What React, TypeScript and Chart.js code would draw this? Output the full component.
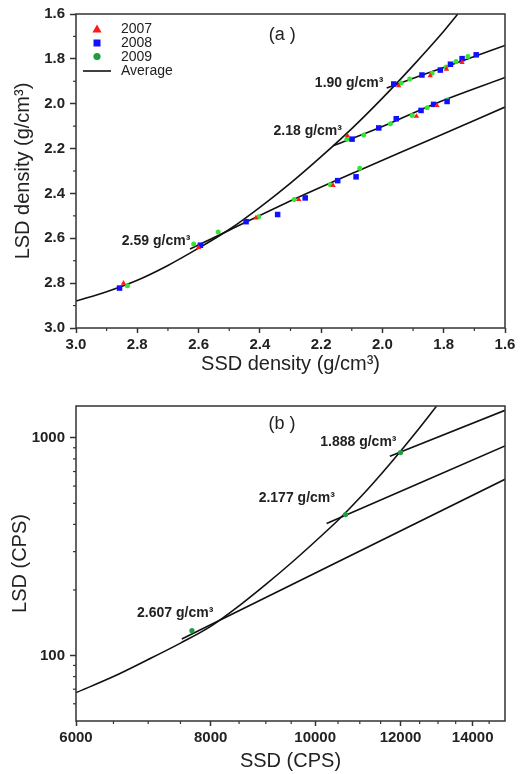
import React, { useEffect, useRef } from 'react';
import { Chart, registerables } from 'chart.js';

Chart.register(...registerables);

const FONT = "'Liberation Sans', Arial, Helvetica, sans-serif";
const INK = '#222';
const FRAME = '#333';

// ---------------- Panel (a) ----------------
const ticksA = [1.6, 1.8, 2.0, 2.2, 2.4, 2.6, 2.8, 3.0];
const minorTicksA = [1.7, 1.9, 2.1, 2.3, 2.5, 2.7, 2.9];

const ssd2007 = [2.845, 2.600, 2.413, 2.273, 2.161, 2.114, 1.947, 1.889, 1.844, 1.822, 1.791, 1.740];
const lsd2007 = [2.800, 2.641, 2.509, 2.427, 2.364, 2.143, 1.920, 2.056, 1.875, 2.008, 1.846, 1.816];

const ssd2008 = [2.858, 2.594, 2.445, 2.342, 2.252, 2.146, 2.086, 2.099, 2.012, 1.955, 1.963, 1.871, 1.874, 1.833, 1.811, 1.789, 1.778, 1.740, 1.694];
const lsd2008 = [2.822, 2.631, 2.526, 2.494, 2.420, 2.343, 2.326, 2.158, 2.108, 2.067, 1.912, 1.872, 2.030, 2.003, 1.850, 1.990, 1.824, 1.799, 1.782];

const ssd2009 = [2.832, 2.616, 2.536, 2.404, 2.288, 2.170, 2.074, 2.116, 2.061, 1.974, 1.903, 1.854, 1.789, 1.939, 1.911, 1.838, 1.792, 1.760, 1.721];
const lsd2009 = [2.812, 2.626, 2.572, 2.504, 2.427, 2.361, 2.288, 2.158, 2.140, 2.089, 2.052, 2.018, 1.983, 1.908, 1.890, 1.864, 1.836, 1.812, 1.790];

const avgSsdA = [3.0, 2.9, 2.8, 2.7, 2.6, 2.5, 2.4, 2.3, 2.2, 2.1, 2.0, 1.9, 1.8, 1.754];
const avgLsdA = [2.880, 2.838, 2.787, 2.721, 2.644, 2.561, 2.462, 2.354, 2.236, 2.111, 1.975, 1.830, 1.677, 1.600];

const fit259Ssd = [2.628, 2.5, 2.29, 2.084, 1.845, 1.6];
const fit259Lsd = [2.648, 2.564, 2.427, 2.302, 2.161, 2.015];
const fit218Ssd = [2.160, 2.008, 1.834, 1.6];
const fit218Lsd = [2.187, 2.106, 2.003, 1.883];
const fit190Ssd = [1.986, 1.877, 1.725, 1.6];
const fit190Lsd = [1.930, 1.875, 1.802, 1.740];

const labelsA = [
  { text: '1.90 g/cm³', x: 1.997, y: 1.909, align: 'right', size: 14, bold: true },
  { text: '2.18 g/cm³', x: 2.132, y: 2.121, align: 'right', size: 14, bold: true },
  { text: '2.59 g/cm³', x: 2.627, y: 2.611, align: 'right', size: 14, bold: true },
  { text: '(a )', x: 2.327, y: 1.693, align: 'center', size: 18, bold: false },
];

const legendNames = ['2007', '2008', '2009', 'Average'];

// ---------------- Panel (b) ----------------
const ticksBx = [6000, 8000, 10000, 12000, 14000];
const minorTicksBx = [6500, 7000, 7500, 8500, 9000, 9500, 10500, 11000, 11500, 12500, 13000, 13500, 14500];
const ticksBy = [100, 1000];
const minorTicksBy = [60, 70, 80, 90, 200, 300, 400, 500, 600, 700, 800, 900];

const avgSsdB = [6000, 6500, 7000, 7500, 8000, 8500, 9000, 9500, 10000, 10500, 11000, 11500, 12000, 12500, 12956];
const avgLsdB = [67.5, 80.0, 95.8, 114, 136, 169, 212, 266, 334, 418, 530, 677, 868, 1112, 1395];

const fit2607SsdB = [7521, 15000];
const fit2607LsdB = [119, 645];
const fit2177SsdB = [10247, 15000];
const fit2177LsdB = [404, 917];
const fit1888SsdB = [11730, 15000];
const fit1888LsdB = [823, 1337];

const calibSsdB = [7686, 10671, 12000];
const calibLsdB = [130, 444, 855];

const labelsB = [
  { text: '1.888 g/cm³', x: 11897, y: 957, align: 'right', size: 14, bold: true },
  { text: '2.177 g/cm³', x: 10431, y: 526, align: 'right', size: 14, bold: true },
  { text: '2.607 g/cm³', x: 8045, y: 156, align: 'right', size: 14, bold: true },
  { text: '(b )', x: 9316, y: 1153, align: 'center', size: 18, bold: false },
];

// ---------------- helpers ----------------
const zip = (xs: number[], ys: number[]) => xs.map((x, i) => ({ x, y: ys[i] }));

const RED = '#ff1a1a';
const BLUE = '#1010ff';
const GREEN_PT = '#33e633';
const GREEN_DARK = '#1e9e3e';

const lineDs = (xs: number[], ys: number[]) => ({
  type: 'line' as const,
  data: zip(xs, ys),
  borderColor: '#111',
  borderWidth: 1.6,
  pointRadius: 0,
  fill: false,
  cubicInterpolationMode: 'monotone' as const,
  order: 2,
});

const pointDs = (xs: number[], ys: number[], color: string, style: string, r: number) => ({
  type: 'scatter' as const,
  data: zip(xs, ys),
  backgroundColor: color,
  borderColor: color,
  borderWidth: 0,
  pointBorderWidth: 0,
  pointStyle: style,
  pointRadius: r,
  showLine: false,
  order: 1,
});

const framePlugin = {
  id: 'frame',
  afterDraw(chart: any) {
    const { ctx, chartArea: a } = chart;
    ctx.save();
    ctx.strokeStyle = FRAME;
    ctx.lineWidth = 1.5;
    ctx.strokeRect(a.left, a.top, a.right - a.left, a.bottom - a.top);
    ctx.restore();
  },
};

const minorTickPlugin = {
  id: 'minorTicks',
  afterDraw(chart: any, _args: any, opts: any) {
    const { ctx, chartArea: a, scales } = chart;
    const len = opts.len || 3;
    ctx.save();
    ctx.strokeStyle = FRAME;
    ctx.lineWidth = 1.2;
    (opts.x || []).forEach((v: number) => {
      const px = scales.x.getPixelForValue(v);
      ctx.beginPath();
      ctx.moveTo(px, a.bottom);
      ctx.lineTo(px, a.bottom + len);
      ctx.stroke();
    });
    (opts.y || []).forEach((v: number) => {
      const py = scales.y.getPixelForValue(v);
      ctx.beginPath();
      ctx.moveTo(a.left, py);
      ctx.lineTo(a.left - len, py);
      ctx.stroke();
    });
    ctx.restore();
  },
};

const textPlugin = {
  id: 'textLabels',
  afterDatasetsDraw(chart: any, _args: any, opts: any) {
    const { ctx, scales } = chart;
    ctx.save();
    ctx.fillStyle = INK;
    ctx.textBaseline = 'middle';
    (opts.items || []).forEach((it: any) => {
      ctx.font = `${it.bold ? 'bold ' : ''}${it.size}px ${FONT}`;
      ctx.textAlign = it.align;
      ctx.fillText(it.text, scales.x.getPixelForValue(it.x), scales.y.getPixelForValue(it.y));
    });
    ctx.restore();
  },
};

const legendPlugin = {
  id: 'insideLegend',
  afterDraw(chart: any, _args: any, opts: any) {
    if (!opts.show) return;
    const { ctx, chartArea: a } = chart;
    const mx = a.left + 21;
    const tx = a.left + 45;
    const rows = [15, 29, 42.5, 57];
    ctx.save();
    ctx.fillStyle = RED;
    ctx.beginPath();
    ctx.moveTo(mx, a.top + rows[0] - 4.5);
    ctx.lineTo(mx + 4.6, a.top + rows[0] + 3.5);
    ctx.lineTo(mx - 4.6, a.top + rows[0] + 3.5);
    ctx.closePath();
    ctx.fill();
    ctx.fillStyle = BLUE;
    ctx.fillRect(mx - 3.5, a.top + rows[1] - 3.5, 7, 7);
    ctx.fillStyle = GREEN_DARK;
    ctx.beginPath();
    ctx.arc(mx, a.top + rows[2], 3.6, 0, Math.PI * 2);
    ctx.fill();
    ctx.strokeStyle = '#111';
    ctx.lineWidth = 1.6;
    ctx.beginPath();
    ctx.moveTo(a.left + 7, a.top + rows[3]);
    ctx.lineTo(a.left + 35, a.top + rows[3]);
    ctx.stroke();
    ctx.fillStyle = INK;
    ctx.font = `14px ${FONT}`;
    ctx.textAlign = 'left';
    ctx.textBaseline = 'middle';
    legendNames.forEach((n, i) => ctx.fillText(n, tx, a.top + rows[i] + 0.5));
    ctx.restore();
  },
};

const tickFont = { family: FONT, size: 15, weight: 'bold' as const };
const titleFont = { family: FONT, size: 20, weight: 'normal' as const };

function configA(): any {
  return {
    data: {
      datasets: [
        pointDs(ssd2007, lsd2007, RED, 'triangle', 3.1),
        pointDs(ssd2008, lsd2008, BLUE, 'rect', 3.9),
        pointDs(ssd2009, lsd2009, GREEN_PT, 'circle', 2.5),
        lineDs(avgSsdA, avgLsdA),
        lineDs(fit259Ssd, fit259Lsd),
        lineDs(fit218Ssd, fit218Lsd),
        lineDs(fit190Ssd, fit190Lsd),
      ],
    },
    options: {
      responsive: false,
      animation: false,
      events: [],
      layout: { padding: { left: 0, top: 11, right: 20, bottom: 0 } },
      plugins: {
        legend: { display: false },
        tooltip: { enabled: false },
        minorTicks: { x: minorTicksA, y: minorTicksA, len: 3 },
        textLabels: { items: labelsA },
        insideLegend: { show: true },
      },
      scales: {
        x: {
          type: 'linear',
          min: 1.6,
          max: 3.0,
          reverse: true,
          afterFit: (s: any) => { s.height = 52; },
          afterBuildTicks: (s: any) => { s.ticks = ticksA.map((v) => ({ value: v })); },
          ticks: { callback: (v: any) => Number(v).toFixed(1), font: tickFont, color: INK, padding: 3, maxRotation: 0, autoSkip: false },
          grid: { drawOnChartArea: false, drawTicks: true, tickLength: 5, tickColor: FRAME, tickWidth: 1.5 },
          border: { display: false },
          title: { display: true, text: 'SSD density (g/cm³)', font: titleFont, color: INK, padding: { top: 0, bottom: 4 } },
        },
        y: {
          type: 'linear',
          min: 1.6,
          max: 3.0,
          reverse: true,
          afterFit: (s: any) => { s.width = 76; },
          afterBuildTicks: (s: any) => { s.ticks = ticksA.map((v) => ({ value: v })); },
          ticks: { callback: (v: any) => Number(v).toFixed(1), font: tickFont, color: INK, padding: 5, autoSkip: false },
          grid: { drawOnChartArea: false, drawTicks: true, tickLength: 6, tickColor: FRAME, tickWidth: 1.5 },
          border: { display: false },
          title: { display: true, text: 'LSD density (g/cm³)', font: titleFont, color: INK, padding: { top: 11, bottom: 0 } },
        },
      },
    },
    plugins: [framePlugin, minorTickPlugin, textPlugin, legendPlugin],
  };
}

function configB(): any {
  return {
    data: {
      datasets: [
        pointDs(calibSsdB, calibLsdB, GREEN_DARK, 'circle', 2.6),
        lineDs(avgSsdB, avgLsdB),
        lineDs(fit2607SsdB, fit2607LsdB),
        lineDs(fit2177SsdB, fit2177LsdB),
        lineDs(fit1888SsdB, fit1888LsdB),
      ],
    },
    options: {
      responsive: false,
      animation: false,
      events: [],
      layout: { padding: { left: 0, top: 26, right: 20, bottom: 0 } },
      plugins: {
        legend: { display: false },
        tooltip: { enabled: false },
        minorTicks: { x: minorTicksBx, y: minorTicksBy, len: 3 },
        textLabels: { items: labelsB },
        insideLegend: { show: false },
      },
      scales: {
        x: {
          type: 'logarithmic',
          min: 6000,
          max: 15000,
          afterFit: (s: any) => { s.height = 53; },
          afterBuildTicks: (s: any) => { s.ticks = ticksBx.map((v) => ({ value: v })); },
          ticks: { callback: (v: any) => String(v), font: tickFont, color: INK, padding: 3, maxRotation: 0, autoSkip: false },
          grid: { drawOnChartArea: false, drawTicks: true, tickLength: 5, tickColor: FRAME, tickWidth: 1.5 },
          border: { display: false },
          title: { display: true, text: 'SSD (CPS)', font: titleFont, color: INK, padding: { top: 0, bottom: 1 } },
        },
        y: {
          type: 'logarithmic',
          min: 50,
          max: 1400,
          afterFit: (s: any) => { s.width = 76; },
          afterBuildTicks: (s: any) => { s.ticks = ticksBy.map((v) => ({ value: v })); },
          ticks: { callback: (v: any) => String(v), font: tickFont, color: INK, padding: 5, autoSkip: false },
          grid: { drawOnChartArea: false, drawTicks: true, tickLength: 6, tickColor: FRAME, tickWidth: 1.5 },
          border: { display: false },
          title: { display: true, text: 'LSD (CPS)', font: titleFont, color: INK, padding: { top: 8, bottom: 0 } },
        },
      },
    },
    plugins: [framePlugin, minorTickPlugin, textPlugin, legendPlugin],
  };
}

function ChartCanvas({ make, width, height, top }: { make: () => any; width: number; height: number; top: number }) {
  const ref = useRef<HTMLCanvasElement>(null);
  useEffect(() => {
    const chart = new Chart(ref.current as HTMLCanvasElement, make());
    return () => chart.destroy();
  }, []);
  return (
    <canvas
      ref={ref}
      width={width}
      height={height}
      style={{ position: 'absolute', left: 0, top, width, height }}
    />
  );
}

export default function App() {
  return (
    <div style={{ position: 'absolute', left: 0, top: 0, width: 525, height: 774, background: '#fff', overflow: 'hidden' }}>
      <ChartCanvas make={configA} width={525} height={380} top={0} />
      <ChartCanvas make={configB} width={525} height={394} top={380} />
    </div>
  );
}
